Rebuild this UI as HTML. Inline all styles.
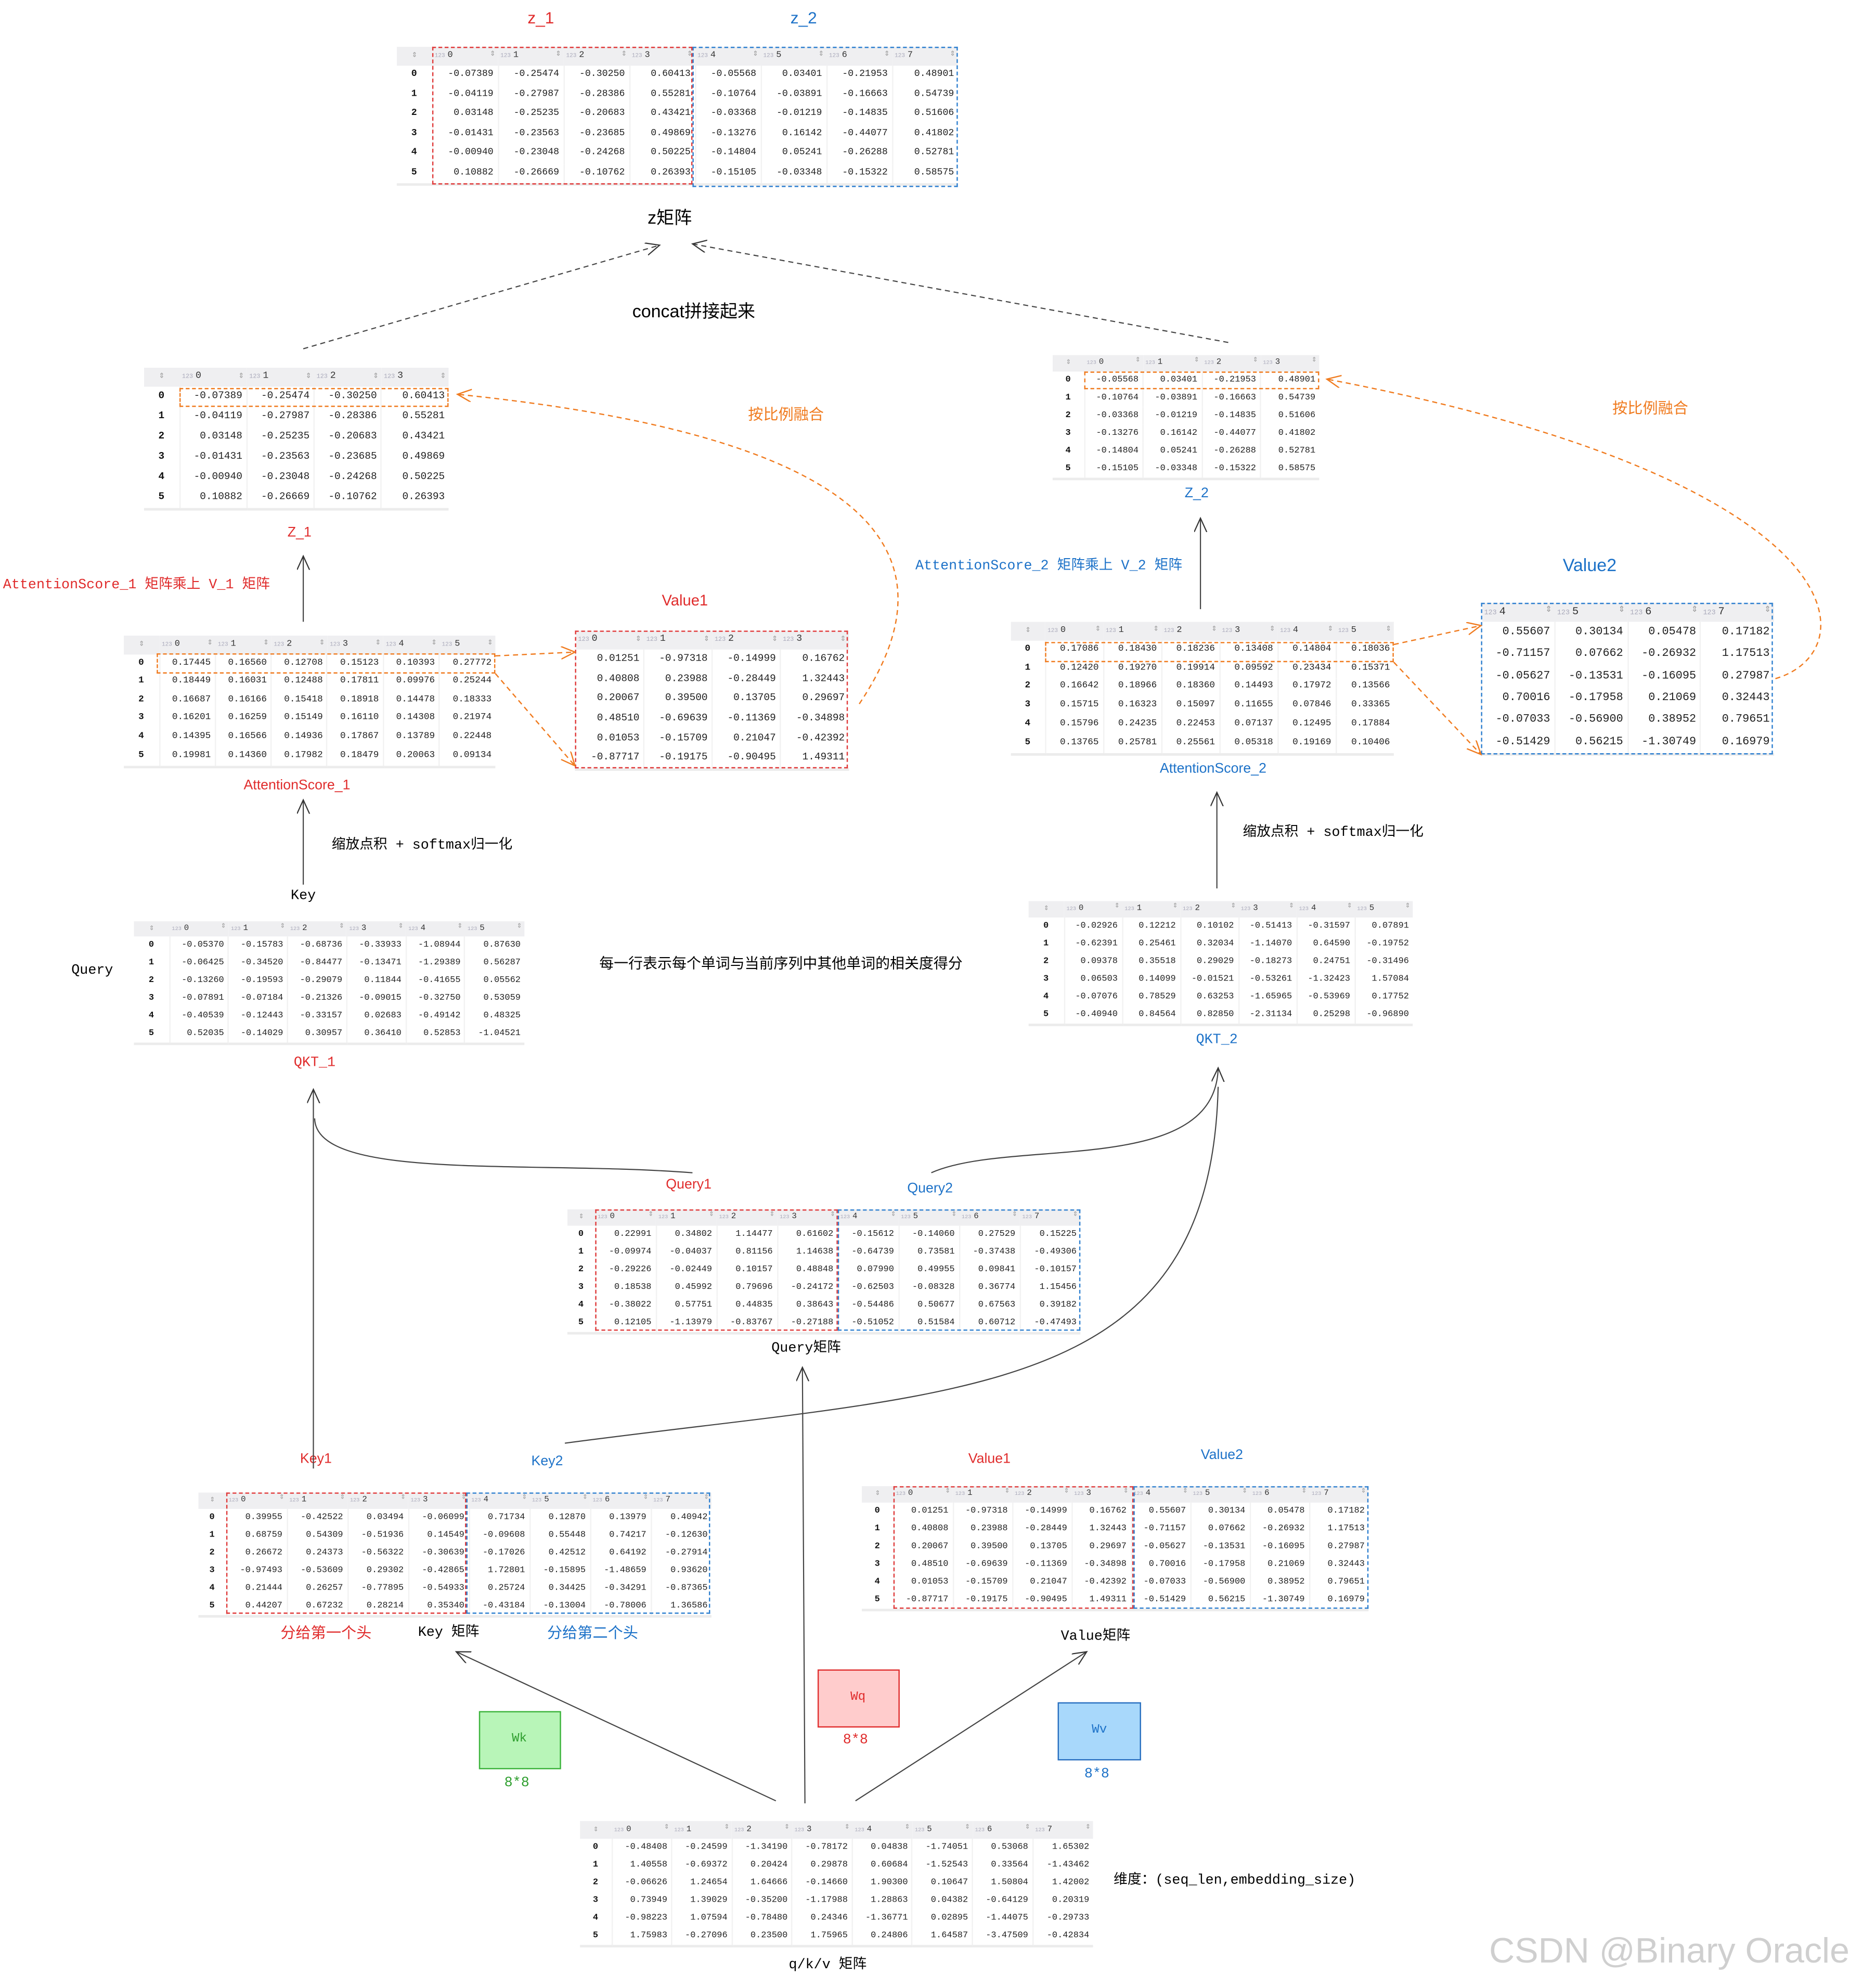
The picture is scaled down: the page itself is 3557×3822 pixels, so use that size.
<!DOCTYPE html>
<html><head><meta charset="utf-8">
<style>
html,body{margin:0;padding:0;background:#fff;}
body{width:3557px;height:3821px;overflow:hidden;position:relative;}
#w{position:absolute;left:0;top:0;width:1464px;height:1573px;transform:scale(2.4296);transform-origin:0 0;}
.l{position:absolute;white-space:nowrap;transform:translate(-50%,-50%);font-family:"Liberation Sans","Noto Sans CJK SC",sans-serif;line-height:1;}
.m{font-family:"Liberation Mono","Noto Sans CJK SC",monospace;}
.r{color:#e02c2c}.b{color:#1d72c8}.o{color:#f07b1f}.g{color:#2e9e2e}
.t{position:absolute;border-collapse:collapse;table-layout:fixed;font-family:"Liberation Mono",monospace;color:#222;line-height:1;}
.t th{background:#efeff1;font-weight:normal;text-align:left;padding:0 2px;white-space:nowrap;overflow:hidden;color:#333}
.t th i{font-style:normal;color:#aab;font-size:.65em;margin-right:2px}
.t th b{float:right;color:#999;font-weight:normal;font-size:.75em}
.t td{text-align:right;padding:0 3px 0 0;border-left:1px solid #f2f2f2;white-space:nowrap;overflow:hidden}
.t td.i{text-align:center;border-left:none;color:#111;padding:0;font-weight:bold}
.t tr:last-child td{border-bottom:2px solid #ececec}
.bx{position:absolute;box-sizing:border-box;}
.rd{border:1.3px dashed #e03a3a}.bd{border:1.3px dashed #2f80d0}.od{border:1.3px dashed #f07b1f}
.w{position:absolute;box-sizing:border-box;}
</style></head><body><div id="w">

<div class="l r" style="left:428px;top:14px;font-size:13px">z_1</div>
<div class="l b" style="left:636px;top:14px;font-size:13px">z_2</div>
<div class="l" style="left:530px;top:172px;font-size:14px">z矩阵</div>
<div class="l" style="left:549px;top:246px;font-size:14px">concat拼接起来</div>
<div class="l r" style="left:237px;top:422px;font-size:11px">Z_1</div>
<div class="l r m" style="left:108px;top:464px;font-size:11px">AttentionScore_1 矩阵乘上 V_1 矩阵</div>
<div class="l o" style="left:622px;top:328px;font-size:12px">按比例融合</div>
<div class="l r" style="left:542px;top:475px;font-size:12px">Value1</div>
<div class="l r" style="left:235px;top:622px;font-size:11px">AttentionScore_1</div>
<div class="l m" style="left:334px;top:670px;font-size:11px">缩放点积 + softmax归一化</div>
<div class="l m" style="left:240px;top:710px;font-size:11px">Key</div>
<div class="l m" style="left:73px;top:769px;font-size:11px">Query</div>
<div class="l r m" style="left:249px;top:842px;font-size:11px">QKT_1</div>
<div class="l" style="left:618px;top:764px;font-size:11.5px">每一行表示每个单词与当前序列中其他单词的相关度得分</div>
<div class="l b" style="left:947px;top:391px;font-size:11px">Z_2</div>
<div class="l b m" style="left:830px;top:449px;font-size:11px">AttentionScore_2 矩阵乘上 V_2 矩阵</div>
<div class="l o" style="left:1306px;top:323px;font-size:12px">按比例融合</div>
<div class="l b" style="left:1258px;top:447px;font-size:14px">Value2</div>
<div class="l b" style="left:960px;top:609px;font-size:11px">AttentionScore_2</div>
<div class="l m" style="left:1055px;top:660px;font-size:11px">缩放点积 + softmax归一化</div>
<div class="l b m" style="left:963px;top:824px;font-size:11px">QKT_2</div>
<div class="l r" style="left:545px;top:938px;font-size:11px">Query1</div>
<div class="l b" style="left:736px;top:941px;font-size:11px">Query2</div>
<div class="l m" style="left:638px;top:1068px;font-size:11px">Query矩阵</div>
<div class="l r" style="left:250px;top:1155px;font-size:11px">Key1</div>
<div class="l b" style="left:433px;top:1157px;font-size:11px">Key2</div>
<div class="l r" style="left:258px;top:1292px;font-size:12px">分给第一个头</div>
<div class="l m" style="left:355px;top:1293px;font-size:11px">Key 矩阵</div>
<div class="l b" style="left:469px;top:1292px;font-size:12px">分给第二个头</div>
<div class="l r" style="left:783px;top:1155px;font-size:11px">Value1</div>
<div class="l b" style="left:967px;top:1152px;font-size:11px">Value2</div>
<div class="l m" style="left:867px;top:1296px;font-size:11px">Value矩阵</div>
<div class="l m" style="left:655px;top:1556px;font-size:11px">q/k/v 矩阵</div>
<div class="l m" style="left:977px;top:1489px;font-size:11px">维度：(seq_len,embedding_size)</div>
<div class="l" style="left:1321px;top:1544px;font-size:28px;color:#cfcfcf">CSDN @Binary Oracle</div>

<div class="w" style="left:379px;top:1354px;width:65px;height:46px;background:#b8f5b8;border:1px solid #3cb43c"></div>
<div class="l g m" style="left:411px;top:1377px;font-size:10px">Wk</div>
<div class="l g m" style="left:409px;top:1412px;font-size:11px">8*8</div>
<div class="w" style="left:647px;top:1321px;width:65px;height:46px;background:#ffcccc;border:1px solid #e03030"></div>
<div class="l r m" style="left:679px;top:1344px;font-size:10px">Wq</div>
<div class="l r m" style="left:677px;top:1378px;font-size:11px">8*8</div>
<div class="w" style="left:837px;top:1347px;width:66px;height:46px;background:#a8d8fb;border:1px solid #2a70c0"></div>
<div class="l b m" style="left:870px;top:1370px;font-size:10px">Wv</div>
<div class="l b m" style="left:868px;top:1405px;font-size:11px">8*8</div>

<style>
#tz th{height:15px;font-size:7px}#tz td{height:15.5px;font-size:7.5px}
#tz1 th{height:15px;font-size:7.5px}#tz1 td{height:16px;font-size:8px}
#ta1 th{height:15px;font-size:7px}#ta1 td{height:14.6px;font-size:7.3px}
#tv1 th{height:15px;font-size:7.5px}#tv1 td{height:15.7px;font-size:8px}
#tq1 th{height:12px;font-size:6.5px}#tq1 td{height:14px;font-size:7px}
#tz2 th{height:13px;font-size:6.5px}#tz2 td{height:14px;font-size:7px}
#ta2 th{height:15px;font-size:7px}#ta2 td{height:14.8px;font-size:7.3px}
#tv2 th{height:15px;font-size:8.5px}#tv2 td{height:17.3px;font-size:9px}
#tq2 th{height:13px;font-size:6.5px}#tq2 td{height:14px;font-size:7px}
#tqm th{height:13px;font-size:6.5px}#tqm td{height:14px;font-size:7px}
#tkm th{height:13px;font-size:6.5px}#tkm td{height:14px;font-size:7px}
#tvm th{height:13px;font-size:6.5px}#tvm td{height:14px;font-size:7px}
#tin th{height:14px;font-size:6.5px}#tin td{height:14px;font-size:7px}
</style>

<table class="t" id="tz" style="left:314px;top:37px;width:444px">
<colgroup><col style="width:28px"><col style="width:52px"><col style="width:52px"><col style="width:52px"><col style="width:52px"><col style="width:52px"><col style="width:52px"><col style="width:52px"><col style="width:52px"></colgroup>
<tr><th style="text-align:center"><b style="float:none">⇕</b></th><th><i>123</i>0<b>⇕</b></th><th><i>123</i>1<b>⇕</b></th><th><i>123</i>2<b>⇕</b></th><th><i>123</i>3<b>⇕</b></th><th><i>123</i>4<b>⇕</b></th><th><i>123</i>5<b>⇕</b></th><th><i>123</i>6<b>⇕</b></th><th><i>123</i>7<b>⇕</b></th></tr>
<tr><td class="i">0</td><td>-0.07389</td><td>-0.25474</td><td>-0.30250</td><td>0.60413</td><td>-0.05568</td><td>0.03401</td><td>-0.21953</td><td>0.48901</td></tr>
<tr><td class="i">1</td><td>-0.04119</td><td>-0.27987</td><td>-0.28386</td><td>0.55281</td><td>-0.10764</td><td>-0.03891</td><td>-0.16663</td><td>0.54739</td></tr>
<tr><td class="i">2</td><td>0.03148</td><td>-0.25235</td><td>-0.20683</td><td>0.43421</td><td>-0.03368</td><td>-0.01219</td><td>-0.14835</td><td>0.51606</td></tr>
<tr><td class="i">3</td><td>-0.01431</td><td>-0.23563</td><td>-0.23685</td><td>0.49869</td><td>-0.13276</td><td>0.16142</td><td>-0.44077</td><td>0.41802</td></tr>
<tr><td class="i">4</td><td>-0.00940</td><td>-0.23048</td><td>-0.24268</td><td>0.50225</td><td>-0.14804</td><td>0.05241</td><td>-0.26288</td><td>0.52781</td></tr>
<tr><td class="i">5</td><td>0.10882</td><td>-0.26669</td><td>-0.10762</td><td>0.26393</td><td>-0.15105</td><td>-0.03348</td><td>-0.15322</td><td>0.58575</td></tr>
</table>
<div class="bx rd" style="left:342px;top:37px;width:206px;height:109px"></div>
<div class="bx bd" style="left:548px;top:37px;width:210px;height:111px"></div>

<table class="t" id="tz1" style="left:114px;top:291px;width:241px">
<colgroup><col style="width:28px"><col style="width:53.25px"><col style="width:53.25px"><col style="width:53.25px"><col style="width:53.25px"></colgroup>
<tr><th style="text-align:center"><b style="float:none">⇕</b></th><th><i>123</i>0<b>⇕</b></th><th><i>123</i>1<b>⇕</b></th><th><i>123</i>2<b>⇕</b></th><th><i>123</i>3<b>⇕</b></th></tr>
<tr><td class="i">0</td><td>-0.07389</td><td>-0.25474</td><td>-0.30250</td><td>0.60413</td></tr>
<tr><td class="i">1</td><td>-0.04119</td><td>-0.27987</td><td>-0.28386</td><td>0.55281</td></tr>
<tr><td class="i">2</td><td>0.03148</td><td>-0.25235</td><td>-0.20683</td><td>0.43421</td></tr>
<tr><td class="i">3</td><td>-0.01431</td><td>-0.23563</td><td>-0.23685</td><td>0.49869</td></tr>
<tr><td class="i">4</td><td>-0.00940</td><td>-0.23048</td><td>-0.24268</td><td>0.50225</td></tr>
<tr><td class="i">5</td><td>0.10882</td><td>-0.26669</td><td>-0.10762</td><td>0.26393</td></tr>
</table>
<div class="bx od" style="left:142px;top:307px;width:213px;height:15px"></div>

<table class="t" id="ta1" style="left:98px;top:503px;width:294px">
<colgroup><col style="width:28px"><col style="width:44.33px"><col style="width:44.33px"><col style="width:44.33px"><col style="width:44.33px"><col style="width:44.33px"><col style="width:44.35px"></colgroup>
<tr><th style="text-align:center"><b style="float:none">⇕</b></th><th><i>123</i>0<b>⇕</b></th><th><i>123</i>1<b>⇕</b></th><th><i>123</i>2<b>⇕</b></th><th><i>123</i>3<b>⇕</b></th><th><i>123</i>4<b>⇕</b></th><th><i>123</i>5<b>⇕</b></th></tr>
<tr><td class="i">0</td><td>0.17445</td><td>0.16560</td><td>0.12708</td><td>0.15123</td><td>0.10393</td><td>0.27772</td></tr>
<tr><td class="i">1</td><td>0.18449</td><td>0.16031</td><td>0.12488</td><td>0.17811</td><td>0.09976</td><td>0.25244</td></tr>
<tr><td class="i">2</td><td>0.16687</td><td>0.16166</td><td>0.15418</td><td>0.18918</td><td>0.14478</td><td>0.18333</td></tr>
<tr><td class="i">3</td><td>0.16201</td><td>0.16259</td><td>0.15149</td><td>0.16110</td><td>0.14308</td><td>0.21974</td></tr>
<tr><td class="i">4</td><td>0.14395</td><td>0.16566</td><td>0.14936</td><td>0.17867</td><td>0.13789</td><td>0.22448</td></tr>
<tr><td class="i">5</td><td>0.19981</td><td>0.14360</td><td>0.17982</td><td>0.18479</td><td>0.20063</td><td>0.09134</td></tr>
</table>
<div class="bx od" style="left:124px;top:517px;width:268px;height:16px"></div>

<table class="t" id="tv1" style="left:455px;top:499px;width:216px">
<colgroup><col style="width:54px"><col style="width:54px"><col style="width:54px"><col style="width:54px"></colgroup>
<tr><th><i>123</i>0<b>⇕</b></th><th><i>123</i>1<b>⇕</b></th><th><i>123</i>2<b>⇕</b></th><th><i>123</i>3<b>⇕</b></th></tr>
<tr><td>0.01251</td><td>-0.97318</td><td>-0.14999</td><td>0.16762</td></tr>
<tr><td>0.40808</td><td>0.23988</td><td>-0.28449</td><td>1.32443</td></tr>
<tr><td>0.20067</td><td>0.39500</td><td>0.13705</td><td>0.29697</td></tr>
<tr><td>0.48510</td><td>-0.69639</td><td>-0.11369</td><td>-0.34898</td></tr>
<tr><td>0.01053</td><td>-0.15709</td><td>0.21047</td><td>-0.42392</td></tr>
<tr><td>-0.87717</td><td>-0.19175</td><td>-0.90495</td><td>1.49311</td></tr>
</table>
<div class="bx rd" style="left:455px;top:499px;width:216px;height:109px"></div>

<table class="t" id="tq1" style="left:106px;top:729px;width:309px">
<colgroup><col style="width:28px"><col style="width:46.8px"><col style="width:46.8px"><col style="width:46.8px"><col style="width:46.8px"><col style="width:46.8px"><col style="width:47px"></colgroup>
<tr><th style="text-align:center"><b style="float:none">⇕</b></th><th><i>123</i>0<b>⇕</b></th><th><i>123</i>1<b>⇕</b></th><th><i>123</i>2<b>⇕</b></th><th><i>123</i>3<b>⇕</b></th><th><i>123</i>4<b>⇕</b></th><th><i>123</i>5<b>⇕</b></th></tr>
<tr><td class="i">0</td><td>-0.05370</td><td>-0.15783</td><td>-0.68736</td><td>-0.33933</td><td>-1.08944</td><td>0.87630</td></tr>
<tr><td class="i">1</td><td>-0.06425</td><td>-0.34520</td><td>-0.84477</td><td>-0.13471</td><td>-1.29389</td><td>0.56287</td></tr>
<tr><td class="i">2</td><td>-0.13260</td><td>-0.19593</td><td>-0.29079</td><td>0.11844</td><td>-0.41655</td><td>0.05562</td></tr>
<tr><td class="i">3</td><td>-0.07891</td><td>-0.07184</td><td>-0.21326</td><td>-0.09015</td><td>-0.32750</td><td>0.53059</td></tr>
<tr><td class="i">4</td><td>-0.40539</td><td>-0.12443</td><td>-0.33157</td><td>0.02683</td><td>-0.49142</td><td>0.48325</td></tr>
<tr><td class="i">5</td><td>0.52035</td><td>-0.14029</td><td>0.30957</td><td>0.36410</td><td>0.52853</td><td>-1.04521</td></tr>
</table>

<table class="t" id="tz2" style="left:833px;top:281px;width:211px">
<colgroup><col style="width:25px"><col style="width:46.5px"><col style="width:46.5px"><col style="width:46.5px"><col style="width:46.5px"></colgroup>
<tr><th style="text-align:center"><b style="float:none">⇕</b></th><th><i>123</i>0<b>⇕</b></th><th><i>123</i>1<b>⇕</b></th><th><i>123</i>2<b>⇕</b></th><th><i>123</i>3<b>⇕</b></th></tr>
<tr><td class="i">0</td><td>-0.05568</td><td>0.03401</td><td>-0.21953</td><td>0.48901</td></tr>
<tr><td class="i">1</td><td>-0.10764</td><td>-0.03891</td><td>-0.16663</td><td>0.54739</td></tr>
<tr><td class="i">2</td><td>-0.03368</td><td>-0.01219</td><td>-0.14835</td><td>0.51606</td></tr>
<tr><td class="i">3</td><td>-0.13276</td><td>0.16142</td><td>-0.44077</td><td>0.41802</td></tr>
<tr><td class="i">4</td><td>-0.14804</td><td>0.05241</td><td>-0.26288</td><td>0.52781</td></tr>
<tr><td class="i">5</td><td>-0.15105</td><td>-0.03348</td><td>-0.15322</td><td>0.58575</td></tr>
</table>
<div class="bx od" style="left:858px;top:294px;width:186px;height:14px"></div>

<table class="t" id="ta2" style="left:800px;top:492px;width:303px">
<colgroup><col style="width:27px"><col style="width:46px"><col style="width:46px"><col style="width:46px"><col style="width:46px"><col style="width:46px"><col style="width:46px"></colgroup>
<tr><th style="text-align:center"><b style="float:none">⇕</b></th><th><i>123</i>0<b>⇕</b></th><th><i>123</i>1<b>⇕</b></th><th><i>123</i>2<b>⇕</b></th><th><i>123</i>3<b>⇕</b></th><th><i>123</i>4<b>⇕</b></th><th><i>123</i>5<b>⇕</b></th></tr>
<tr><td class="i">0</td><td>0.17086</td><td>0.18430</td><td>0.18236</td><td>0.13408</td><td>0.14804</td><td>0.18036</td></tr>
<tr><td class="i">1</td><td>0.12420</td><td>0.19270</td><td>0.19914</td><td>0.09592</td><td>0.23434</td><td>0.15371</td></tr>
<tr><td class="i">2</td><td>0.16642</td><td>0.18966</td><td>0.18360</td><td>0.14493</td><td>0.17972</td><td>0.13566</td></tr>
<tr><td class="i">3</td><td>0.15715</td><td>0.16323</td><td>0.15097</td><td>0.11655</td><td>0.07846</td><td>0.33365</td></tr>
<tr><td class="i">4</td><td>0.15796</td><td>0.24235</td><td>0.22453</td><td>0.07137</td><td>0.12495</td><td>0.17884</td></tr>
<tr><td class="i">5</td><td>0.13765</td><td>0.25781</td><td>0.25561</td><td>0.05318</td><td>0.19169</td><td>0.10406</td></tr>
</table>
<div class="bx od" style="left:827px;top:508px;width:276px;height:16px"></div>

<table class="t" id="tv2" style="left:1172px;top:477px;width:231px">
<colgroup><col style="width:57.75px"><col style="width:57.75px"><col style="width:57.75px"><col style="width:57.75px"></colgroup>
<tr><th><i>123</i>4<b>⇕</b></th><th><i>123</i>5<b>⇕</b></th><th><i>123</i>6<b>⇕</b></th><th><i>123</i>7<b>⇕</b></th></tr>
<tr><td>0.55607</td><td>0.30134</td><td>0.05478</td><td>0.17182</td></tr>
<tr><td>-0.71157</td><td>0.07662</td><td>-0.26932</td><td>1.17513</td></tr>
<tr><td>-0.05627</td><td>-0.13531</td><td>-0.16095</td><td>0.27987</td></tr>
<tr><td>0.70016</td><td>-0.17958</td><td>0.21069</td><td>0.32443</td></tr>
<tr><td>-0.07033</td><td>-0.56900</td><td>0.38952</td><td>0.79651</td></tr>
<tr><td>-0.51429</td><td>0.56215</td><td>-1.30749</td><td>0.16979</td></tr>
</table>
<div class="bx bd" style="left:1172px;top:477px;width:231px;height:120px"></div>

<table class="t" id="tq2" style="left:814px;top:713px;width:304px">
<colgroup><col style="width:28px"><col style="width:46px"><col style="width:46px"><col style="width:46px"><col style="width:46px"><col style="width:46px"><col style="width:46px"></colgroup>
<tr><th style="text-align:center"><b style="float:none">⇕</b></th><th><i>123</i>0<b>⇕</b></th><th><i>123</i>1<b>⇕</b></th><th><i>123</i>2<b>⇕</b></th><th><i>123</i>3<b>⇕</b></th><th><i>123</i>4<b>⇕</b></th><th><i>123</i>5<b>⇕</b></th></tr>
<tr><td class="i">0</td><td>-0.02926</td><td>0.12212</td><td>0.10102</td><td>-0.51413</td><td>-0.31597</td><td>0.07891</td></tr>
<tr><td class="i">1</td><td>-0.62391</td><td>0.25461</td><td>0.32034</td><td>-1.14070</td><td>0.64590</td><td>-0.19752</td></tr>
<tr><td class="i">2</td><td>0.09378</td><td>0.35518</td><td>0.29029</td><td>-0.18273</td><td>0.24751</td><td>-0.31496</td></tr>
<tr><td class="i">3</td><td>0.06503</td><td>0.14099</td><td>-0.01521</td><td>-0.53261</td><td>-1.32423</td><td>1.57084</td></tr>
<tr><td class="i">4</td><td>-0.07076</td><td>0.78529</td><td>0.63253</td><td>-1.65965</td><td>-0.53969</td><td>0.17752</td></tr>
<tr><td class="i">5</td><td>-0.40940</td><td>0.84564</td><td>0.82850</td><td>-2.31134</td><td>0.25298</td><td>-0.96890</td></tr>
</table>

<table class="t" id="tqm" style="left:449px;top:957px;width:406px">
<colgroup><col style="width:22px"><col style="width:48px"><col style="width:48px"><col style="width:48px"><col style="width:48px"><col style="width:48px"><col style="width:48px"><col style="width:48px"><col style="width:48px"></colgroup>
<tr><th style="text-align:center"><b style="float:none">⇕</b></th><th><i>123</i>0<b>⇕</b></th><th><i>123</i>1<b>⇕</b></th><th><i>123</i>2<b>⇕</b></th><th><i>123</i>3<b>⇕</b></th><th><i>123</i>4<b>⇕</b></th><th><i>123</i>5<b>⇕</b></th><th><i>123</i>6<b>⇕</b></th><th><i>123</i>7<b>⇕</b></th></tr>
<tr><td class="i">0</td><td>0.22991</td><td>0.34802</td><td>1.14477</td><td>0.61602</td><td>-0.15612</td><td>-0.14060</td><td>0.27529</td><td>0.15225</td></tr>
<tr><td class="i">1</td><td>-0.09974</td><td>-0.04037</td><td>0.81156</td><td>1.14638</td><td>-0.64739</td><td>0.73581</td><td>-0.37438</td><td>-0.49306</td></tr>
<tr><td class="i">2</td><td>-0.29226</td><td>-0.02449</td><td>0.10157</td><td>0.48848</td><td>0.07990</td><td>0.49955</td><td>0.09841</td><td>-0.10157</td></tr>
<tr><td class="i">3</td><td>0.18538</td><td>0.45992</td><td>0.79696</td><td>-0.24172</td><td>-0.62503</td><td>-0.08328</td><td>0.36774</td><td>1.15456</td></tr>
<tr><td class="i">4</td><td>-0.38022</td><td>0.57751</td><td>0.44835</td><td>0.38643</td><td>-0.54486</td><td>0.50677</td><td>0.67563</td><td>0.39182</td></tr>
<tr><td class="i">5</td><td>0.12105</td><td>-1.13979</td><td>-0.83767</td><td>-0.27188</td><td>-0.51052</td><td>0.51584</td><td>0.60712</td><td>-0.47493</td></tr>
</table>
<div class="bx rd" style="left:471px;top:957px;width:192px;height:96px"></div>
<div class="bx bd" style="left:663px;top:957px;width:192px;height:96px"></div>

<table class="t" id="tkm" style="left:157px;top:1181px;width:406px">
<colgroup><col style="width:22px"><col style="width:48px"><col style="width:48px"><col style="width:48px"><col style="width:48px"><col style="width:48px"><col style="width:48px"><col style="width:48px"><col style="width:48px"></colgroup>
<tr><th style="text-align:center"><b style="float:none">⇕</b></th><th><i>123</i>0<b>⇕</b></th><th><i>123</i>1<b>⇕</b></th><th><i>123</i>2<b>⇕</b></th><th><i>123</i>3<b>⇕</b></th><th><i>123</i>4<b>⇕</b></th><th><i>123</i>5<b>⇕</b></th><th><i>123</i>6<b>⇕</b></th><th><i>123</i>7<b>⇕</b></th></tr>
<tr><td class="i">0</td><td>0.39955</td><td>-0.42522</td><td>0.03494</td><td>-0.06099</td><td>0.71734</td><td>0.12870</td><td>0.13979</td><td>0.40942</td></tr>
<tr><td class="i">1</td><td>0.68759</td><td>0.54309</td><td>-0.51936</td><td>0.14549</td><td>-0.09608</td><td>0.55448</td><td>0.74217</td><td>-0.12630</td></tr>
<tr><td class="i">2</td><td>0.26672</td><td>0.24373</td><td>-0.56322</td><td>-0.30639</td><td>-0.17026</td><td>0.42512</td><td>0.64192</td><td>-0.27914</td></tr>
<tr><td class="i">3</td><td>-0.97493</td><td>-0.53609</td><td>0.29302</td><td>-0.42865</td><td>1.72801</td><td>-0.15895</td><td>-1.48659</td><td>0.93620</td></tr>
<tr><td class="i">4</td><td>0.21444</td><td>0.26257</td><td>-0.77895</td><td>-0.54933</td><td>0.25724</td><td>0.34425</td><td>-0.34291</td><td>-0.87365</td></tr>
<tr><td class="i">5</td><td>0.44207</td><td>0.67232</td><td>0.28214</td><td>0.35340</td><td>-0.43184</td><td>-0.13004</td><td>-0.78006</td><td>1.36586</td></tr>
</table>
<div class="bx rd" style="left:179px;top:1181px;width:190px;height:96px"></div>
<div class="bx bd" style="left:369px;top:1181px;width:193px;height:96px"></div>

<table class="t" id="tvm" style="left:682px;top:1176px;width:401px">
<colgroup><col style="width:25px"><col style="width:47px"><col style="width:47px"><col style="width:47px"><col style="width:47px"><col style="width:47px"><col style="width:47px"><col style="width:47px"><col style="width:47px"></colgroup>
<tr><th style="text-align:center"><b style="float:none">⇕</b></th><th><i>123</i>0<b>⇕</b></th><th><i>123</i>1<b>⇕</b></th><th><i>123</i>2<b>⇕</b></th><th><i>123</i>3<b>⇕</b></th><th><i>123</i>4<b>⇕</b></th><th><i>123</i>5<b>⇕</b></th><th><i>123</i>6<b>⇕</b></th><th><i>123</i>7<b>⇕</b></th></tr>
<tr><td class="i">0</td><td>0.01251</td><td>-0.97318</td><td>-0.14999</td><td>0.16762</td><td>0.55607</td><td>0.30134</td><td>0.05478</td><td>0.17182</td></tr>
<tr><td class="i">1</td><td>0.40808</td><td>0.23988</td><td>-0.28449</td><td>1.32443</td><td>-0.71157</td><td>0.07662</td><td>-0.26932</td><td>1.17513</td></tr>
<tr><td class="i">2</td><td>0.20067</td><td>0.39500</td><td>0.13705</td><td>0.29697</td><td>-0.05627</td><td>-0.13531</td><td>-0.16095</td><td>0.27987</td></tr>
<tr><td class="i">3</td><td>0.48510</td><td>-0.69639</td><td>-0.11369</td><td>-0.34898</td><td>0.70016</td><td>-0.17958</td><td>0.21069</td><td>0.32443</td></tr>
<tr><td class="i">4</td><td>0.01053</td><td>-0.15709</td><td>0.21047</td><td>-0.42392</td><td>-0.07033</td><td>-0.56900</td><td>0.38952</td><td>0.79651</td></tr>
<tr><td class="i">5</td><td>-0.87717</td><td>-0.19175</td><td>-0.90495</td><td>1.49311</td><td>-0.51429</td><td>0.56215</td><td>-1.30749</td><td>0.16979</td></tr>
</table>
<div class="bx rd" style="left:707px;top:1176px;width:190px;height:97px"></div>
<div class="bx bd" style="left:897px;top:1176px;width:186px;height:97px"></div>

<table class="t" id="tin" style="left:459px;top:1441px;width:406px">
<colgroup><col style="width:25px"><col style="width:47.6px"><col style="width:47.6px"><col style="width:47.6px"><col style="width:47.6px"><col style="width:47.6px"><col style="width:47.6px"><col style="width:47.6px"><col style="width:47.8px"></colgroup>
<tr><th style="text-align:center"><b style="float:none">⇕</b></th><th><i>123</i>0<b>⇕</b></th><th><i>123</i>1<b>⇕</b></th><th><i>123</i>2<b>⇕</b></th><th><i>123</i>3<b>⇕</b></th><th><i>123</i>4<b>⇕</b></th><th><i>123</i>5<b>⇕</b></th><th><i>123</i>6<b>⇕</b></th><th><i>123</i>7<b>⇕</b></th></tr>
<tr><td class="i">0</td><td>-0.48408</td><td>-0.24599</td><td>-1.34190</td><td>-0.78172</td><td>0.04838</td><td>-1.74051</td><td>0.53068</td><td>1.65302</td></tr>
<tr><td class="i">1</td><td>1.40558</td><td>-0.69372</td><td>0.20424</td><td>0.29878</td><td>0.60684</td><td>-1.52543</td><td>0.33564</td><td>-1.43462</td></tr>
<tr><td class="i">2</td><td>-0.06626</td><td>1.24654</td><td>1.64666</td><td>-0.14660</td><td>1.90300</td><td>0.10647</td><td>1.50804</td><td>1.42002</td></tr>
<tr><td class="i">3</td><td>0.73949</td><td>1.39029</td><td>-0.35200</td><td>-1.17988</td><td>1.28863</td><td>0.04382</td><td>-0.64129</td><td>0.20319</td></tr>
<tr><td class="i">4</td><td>-0.98223</td><td>1.07594</td><td>-0.78480</td><td>0.24346</td><td>-1.36771</td><td>0.02895</td><td>-1.44075</td><td>-0.29733</td></tr>
<tr><td class="i">5</td><td>1.75983</td><td>-0.27096</td><td>0.23500</td><td>1.75965</td><td>0.24806</td><td>1.64587</td><td>-3.47509</td><td>-0.42834</td></tr>
</table>

<svg style="position:absolute;left:0;top:0" width="1464" height="1573" viewBox="0 0 1464 1573">
<defs>
<marker id="ak" markerUnits="userSpaceOnUse" markerWidth="14" markerHeight="12" refX="11" refY="5" orient="auto"><path d="M0,0 L11,5 L0,10" fill="none" stroke="#333" stroke-width="0.9"/></marker>
<marker id="ao" markerUnits="userSpaceOnUse" markerWidth="14" markerHeight="12" refX="11" refY="5" orient="auto"><path d="M0,0 L11,5 L0,10" fill="none" stroke="#f07b1f" stroke-width="1"/></marker>
</defs>
<g fill="none" stroke="#444" stroke-width="0.9">
<path d="M240,276 L522,194" stroke-dasharray="4 3" marker-end="url(#ak)"/>
<path d="M972,271 L548,193" stroke-dasharray="4 3" marker-end="url(#ak)"/>
<path d="M240,492 L240,440" marker-end="url(#ak)"/>
<path d="M240,700 L240,633" marker-end="url(#ak)"/>
<path d="M950,482 L950,410" marker-end="url(#ak)"/>
<path d="M963,703 L963,627" marker-end="url(#ak)"/>
<path d="M248,1162 L248,862" marker-end="url(#ak)"/>
<path d="M637,1427 L635,1082" marker-end="url(#ak)"/>
<path d="M614,1425 L361,1307" marker-end="url(#ak)"/>
<path d="M677,1425 L860,1307" marker-end="url(#ak)"/>
<path d="M548,928 C 420,918 250,935 249,885"/>
<path d="M737,928 C 800,900 962,932 964,845" marker-end="url(#ak)"/>
<path d="M447,1142 C 760,1100 958,1110 964,860"/>
</g>
<g fill="none" stroke="#f07b1f" stroke-width="1" stroke-dasharray="4 3">
<path d="M392,519 L455,516" marker-end="url(#ao)"/>
<path d="M392,533 L455,606" marker-end="url(#ao)"/>
<path d="M680,557 C 745,460 735,350 362,312" marker-end="url(#ao)"/>
<path d="M1103,510 L1172,495" marker-end="url(#ao)"/>
<path d="M1103,524 L1172,597" marker-end="url(#ao)"/>
<path d="M1405,537 C 1480,515 1470,380 1050,300" marker-end="url(#ao)"/>
</g>
</svg>
</div></body></html>
